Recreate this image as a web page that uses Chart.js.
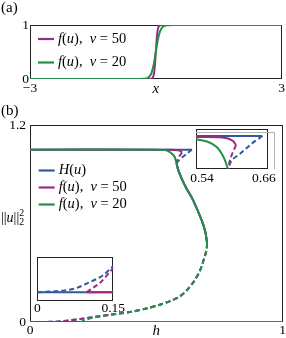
<!DOCTYPE html>
<html>
<head>
<meta charset="utf-8">
<script src="https://cdn.jsdelivr.net/npm/chart.js@4.4.1/dist/chart.umd.min.js"></script>
<style>
  body { margin: 0; background: #fff; }
  #fig { position: relative; width: 286px; height: 338px; overflow: hidden; }
  #fig canvas, #fig .grey { position: absolute; }
  .grey { border-top: 1px solid #b4b4b4; border-right: 1px solid #b4b4b4; box-sizing: border-box; }
</style>
</head>
<body>
<div id="fig">
  <canvas id="chartA" width="286" height="97" style="left:0;top:0"></canvas>
  <canvas id="chartB" width="286" height="238" style="left:0;top:100px"></canvas>
  <canvas id="insetLow" width="104" height="70" style="left:26px;top:248px"></canvas>
  <canvas id="insetFold" width="100" height="70" style="left:186px;top:120px"></canvas>
  <div class="grey" style="left:196px;top:132px;width:79px;height:37px"></div>
</div>
<script>
// ---- panel (a): smoothed step f(u) ----
const xNu50 = [-3, -0.15, -0.1, -0.08, -0.06, -0.04, -0.02, 0, 0.02, 0.04, 0.06, 0.08, 0.1, 0.15, 3];
const fNu50 = [0, 0.0006, 0.0067, 0.018, 0.047, 0.119, 0.269, 0.5, 0.731, 0.881, 0.953, 0.982, 0.9933, 0.9994, 1];
const xNu20 = [-3, -0.4, -0.3, -0.25, -0.2, -0.15, -0.1, -0.05, 0, 0.05, 0.1, 0.15, 0.2, 0.25, 0.3, 0.4, 3];
const fNu20 = [0, 0.0003, 0.0025, 0.0067, 0.018, 0.047, 0.119, 0.269, 0.5, 0.731, 0.881, 0.953, 0.982, 0.9933, 0.9975, 0.9997, 1];
const aTicksX = [-3, 0, 3];
const aLabelsX = ['\u22123', 'x', '3'];
const aTicksY = [0, 1];
const aLabelsY = ['0', '1'];

// ---- panel (b): ||u||^2 against h ----
// upper branches up to the first fold
const hBlueUp = [0, 0.641];
const vBlueUp = [1.05, 1.05];
const hMagUp = [0, 0.5, 0.56, 0.585, 0.597, 0.602];
const vMagUp = [1.05, 1.05, 1.049, 1.046, 1.04, 1.032];
const hGreenUp = [0, 0.5, 0.534, 0.552, 0.564, 0.573];
const vGreenUp = [1.05, 1.05, 1.047, 1.037, 1.022, 1.005];
// unstable pieces coming back from the fold
const hBlueBack = [0.641, 0.622, 0.603, 0.588, 0.58];
const vBlueBack = [1.05, 1.027, 1.003, 0.983, 0.967];
const hMagBack = [0.602, 0.592, 0.584, 0.58];
const vMagBack = [1.032, 1.012, 0.99, 0.967];
// shared middle branch down to the right fold (solid)
const hMid = [0.58, 0.587, 0.6, 0.619, 0.645, 0.679, 0.694, 0.701];
const vMid = [0.967, 0.925, 0.875, 0.815, 0.744, 0.622, 0.549, 0.48];
// shared unstable lower branch (dashed)
const hLow = [0.701, 0.699, 0.69, 0.672, 0.65, 0.625, 0.593, 0.555, 0.514, 0.46, 0.408, 0.36, 0.316];
const vLow = [0.48, 0.44, 0.39, 0.31, 0.25, 0.2, 0.156, 0.127, 0.105, 0.082, 0.064, 0.053, 0.044];
const hBlueTail = [0.25, 0.2, 0.15, 0.127, 0.107, 0.074, 0.055, 0];
const vBlueTail = [0.03, 0.019, 0.0089, 0.0055, 0.0038, 0.0013, 0.0006, 0];
const hMagTail = [0.25, 0.2, 0.15, 0.127, 0.0975];
const vMagTail = [0.029, 0.018, 0.0083, 0.0038, 0];
const hGreenTail = [0.25, 0.22, 0.2];
const vGreenTail = [0.027, 0.013, 0];
// trivial solution u = 0
const hBlueZero = [0, 1];
const hMagZero = [0.0975, 1];
const hGreenZero = [0.2, 1];
const bTicksX = [0, 0.5, 1];
const bLabelsX = ['0', 'h', '1'];
const bTicksY = [0, 1.2];
const bLabelsY = ['0', '1.2'];

// inset near the upper fold
const fBlueUpH = [0.5285, 0.657];
const fBlueUpV = [1.05, 1.05];
const fBlueBackH = [0.657, 0.6364, 0.6137, 0.5976, 0.591];
const fBlueBackV = [1.05, 1.0288, 1.001, 0.983, 0.96];
const fMagUpH = [0.5285, 0.575, 0.5905, 0.6001, 0.606];
const fMagUpV = [1.047, 1.0464, 1.043, 1.036, 1.025];
const fMagBackH = [0.606, 0.6001, 0.5943, 0.591];
const fMagBackV = [1.025, 1.006, 0.984, 0.96];
const fGreenH = [0.5285, 0.5523, 0.5686, 0.5783, 0.5847, 0.5899];
const fGreenV = [1.041, 1.0334, 1.0197, 1.001, 0.983, 0.96];
const fTicksX = [0.54, 0.66];
const fLabelsX = ['0.54', '0.66'];

// inset near h = 0
const lBlueZeroH = [0, 0.15];
const lMagZeroH = [0.0975, 0.15];
const lBlueDashH = [0, 0.0547, 0.0744, 0.1074, 0.1271, 0.15];
const lBlueDashV = [0, 0.0006, 0.00126, 0.00375, 0.00545, 0.0089];
const lMagDashH = [0.0975, 0.1271, 0.15];
const lMagDashV = [0, 0.00375, 0.0083];
const lTicksX = [0, 0.15];
const lLabelsX = ['0', '0.15'];

const SERIF = '"Liberation Serif", "DejaVu Serif", serif';
const BLUE = '#2f5a9c', MAGENTA = '#982d7e', GREEN = '#23904a';

function pts(xs, ys) {
  return xs.map((x, i) => ({ x: x, y: ys[i] }));
}
function zeros(xs) {
  return xs.map(() => 0);
}

function curve(xs, ys, color, dashed, order, smooth) {
  return {
    data: pts(xs, ys),
    borderColor: color,
    borderWidth: 2,
    borderDash: dashed ? [5, 3] : [],
    pointRadius: 0,
    fill: false,
    order: order,
    tension: smooth === 'mono' ? 0 : 0.3,
    cubicInterpolationMode: smooth === 'mono' ? 'monotone' : 'default'
  };
}

function axis(min, max, ticks, labels, size, padding, italic, display) {
  return {
    type: 'linear',
    min: min,
    max: max,
    display: display !== false,
    grid: { display: false, drawTicks: false },
    border: { display: false },
    afterBuildTicks: s => { s.ticks = ticks.map(v => ({ value: v })); },
    afterFit: s => {
      if (s.isHorizontal()) s.height = size; else s.width = size;
    },
    ticks: {
      autoSkip: false,
      maxRotation: 0,
      padding: padding,
      color: '#000',
      font: c => ({
        family: SERIF,
        size: c.tick && c.tick.value === italic ? 15 : 13.5,
        style: c.tick && c.tick.value === italic ? 'italic' : 'normal'
      }),
      callback: (v, i) => labels[i]
    }
  };
}

// mixed upright / italic text, with stacked super- and subscript
function rich(ctx, segs, x, y, size) {
  segs.forEach(([t, st]) => {
    let s = size, dy = 0;
    if (st === 'sup') { s = size * 0.7; dy = -5; }
    if (st === 'sub') { s = size * 0.7; dy = 4; }
    ctx.font = (st === 'i' ? 'italic ' : '') + s + 'px ' + SERIF;
    ctx.fillText(t, x, y + dy);
    if (st !== 'sup') x += ctx.measureText(t).width;
  });
}

const frame = {
  id: 'frame',
  beforeDatasetsDraw(chart, args, o) {
    const { ctx, chartArea: a } = chart;
    ctx.save();
    if (o.fill) {
      ctx.fillStyle = '#fff';
      ctx.fillRect(a.left, a.top, a.right - a.left, a.bottom - a.top);
    }
    ctx.strokeStyle = '#222';
    ctx.lineWidth = 1;
    ctx.strokeRect(Math.round(a.left) + 0.5, Math.round(a.top) + 0.5,
      Math.round(a.right - a.left) - 1, Math.round(a.bottom - a.top) - 1);
    ctx.restore();
  }
};

const notes = {
  id: 'notes',
  afterDraw(chart, args, o) {
    const ctx = chart.ctx;
    ctx.save();
    ctx.textBaseline = 'middle';
    ctx.fillStyle = '#000';
    (o.legend || []).forEach((it, i) => {
      const y = o.y + i * o.dy;
      ctx.strokeStyle = it.color;
      ctx.lineWidth = 2.2;
      ctx.beginPath();
      ctx.moveTo(o.x, y);
      ctx.lineTo(o.x + 16, y);
      ctx.stroke();
      rich(ctx, it.text, o.x + 20, y, 14.5);
    });
    (o.texts || []).forEach(t => rich(ctx, t.segs, t.x, t.y, t.size));
    ctx.restore();
  }
};

function makeChart(id, datasets, scales, padding, frameOpts, noteOpts) {
  return new Chart(document.getElementById(id), {
    type: 'line',
    data: { datasets: datasets },
    options: {
      responsive: false,
      animation: false,
      devicePixelRatio: 1,
      events: [],
      layout: { padding: padding },
      scales: scales,
      plugins: {
        legend: { display: false },
        tooltip: { enabled: false },
        frame: frameOpts,
        notes: noteOpts
      }
    },
    plugins: [frame, notes]
  });
}

const label50 = [['f', 'i'], ['(', ''], ['u', 'i'], ['),  ', ''], ['\u03bd', 'i'], [' = 50', '']];
const label20 = [['f', 'i'], ['(', ''], ['u', 'i'], ['),  ', ''], ['\u03bd', 'i'], [' = 20', '']];
const labelH = [['H', 'i'], ['(', ''], ['u', 'i'], [')', '']];
const normLabel = [['||', ''], ['u', 'i'], ['||', ''], ['2', 'sup'], ['2', 'sub']];

// (a)
makeChart('chartA', [
  curve(xNu50, fNu50, MAGENTA, false, 2, 'mono'),
  curve(xNu20, fNu20, GREEN, false, 1, 'mono')
], {
  x: axis(-3, 3, aTicksX, aLabelsX, 18, 1, 0),
  y: axis(0, 1, aTicksY, aLabelsY, 30, 1)
}, { top: 25, right: 3 }, {}, {
  x: 38, y: 39, dy: 23.5,
  legend: [{ color: MAGENTA, text: label50 }, { color: GREEN, text: label20 }],
  texts: [{ segs: [['(a)', '']], x: 1, y: 8.5, size: 15 }]
});

// (b)
makeChart('chartB', [
  curve(hBlueZero, zeros(hBlueZero), BLUE, false, 6),
  curve(hBlueUp, vBlueUp, BLUE, false, 6),
  curve(hBlueBack, vBlueBack, BLUE, true, 6),
  curve(hMid, vMid, BLUE, false, 6),
  curve(hLow.concat(hBlueTail), vLow.concat(vBlueTail), BLUE, true, 6),
  curve(hMagZero, zeros(hMagZero), MAGENTA, false, 4),
  curve(hMagUp, vMagUp, MAGENTA, false, 4),
  curve(hMagBack, vMagBack, MAGENTA, true, 4),
  curve(hMid, vMid, MAGENTA, false, 4),
  curve(hLow.concat(hMagTail), vLow.concat(vMagTail), MAGENTA, true, 4),
  curve(hGreenZero, zeros(hGreenZero), GREEN, false, 2),
  curve(hGreenUp.concat(hMid), vGreenUp.concat(vMid), GREEN, false, 2),
  curve(hLow.concat(hGreenTail), vLow.concat(vGreenTail), GREEN, true, 2)
], {
  x: axis(0, 1, bTicksX, bLabelsX, 16, 0, 0.5),
  y: axis(0, 1.2, bTicksY, bLabelsY, 30, 4)
}, { top: 25, right: 3 }, {}, {
  x: 38.7, y: 70.5, dy: 17,
  legend: [
    { color: BLUE, text: labelH },
    { color: MAGENTA, text: label50 },
    { color: GREEN, text: label20 }
  ],
  texts: [
    { segs: [['(b)', '']], x: 1, y: 10.8, size: 15 },
    { segs: normLabel, x: 1, y: 118.5, size: 14 }
  ]
});

// inset near h = 0
makeChart('insetLow', [
  curve(lBlueZeroH, zeros(lBlueZeroH), BLUE, false, 4),
  curve(lBlueDashH, lBlueDashV, BLUE, true, 4, 'mono'),
  curve(lMagZeroH, zeros(lMagZeroH), MAGENTA, false, 2),
  curve(lMagDashH, lMagDashV, MAGENTA, true, 2, 'mono')
], {
  x: axis(0, 0.15, lTicksX, lLabelsX, 17, -1),
  y: axis(-0.003, 0.012, [], [], 0, 0, null, false)
}, { left: 11.3, top: 9, right: 16.7 }, { fill: true }, {});

// inset near the upper fold
makeChart('insetFold', [
  curve(fBlueUpH, fBlueUpV, BLUE, false, 6),
  curve(fBlueBackH, fBlueBackV, BLUE, true, 6),
  curve(fMagUpH, fMagUpV, MAGENTA, false, 4),
  curve(fMagBackH, fMagBackV, MAGENTA, true, 4),
  curve(fGreenH, fGreenV, GREEN, false, 2)
], {
  x: axis(0.5285, 0.6685, fTicksX, fLabelsX, 21.3, 2),
  y: axis(0.96, 1.07, [], [], 0, 0, null, false)
}, { left: 10, top: 8.7, right: 17.7 }, { fill: true }, {});
</script>
</body>
</html>
